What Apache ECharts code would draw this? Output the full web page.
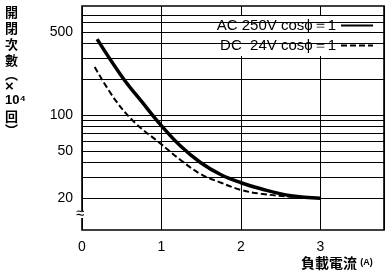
<!DOCTYPE html>
<html>
<head>
<meta charset="utf-8">
<script src="https://cdn.jsdelivr.net/npm/echarts@6/dist/echarts.min.js"></script>
<style>
  html, body { margin: 0; padding: 0; background: #fff; }
  #chart { width: 392px; height: 277px; }
</style>
</head>
<body>
<div id="chart"></div>
<script>
/* 負載電流 (A) */
const acCurrent = [0.19, 0.51, 0.76, 0.99, 1.24, 1.49, 1.75, 2.0, 2.25, 2.63, 3.0]
/* 開閉次數 (x10^4回) AC 250V */
const acCycles = [437, 208, 128, 83, 55, 40, 31.5, 27, 24, 21, 20]

const dcCurrent = [0.16, 0.42, 0.67, 0.97, 1.24, 1.49, 1.75, 2.0, 2.25, 2.63, 3.0]
/* DC 24V */
const dcCycles = [254, 134, 86, 59, 42, 32, 27, 23.5, 21.8, 20.6, 20]

/* 對數格線 */
const gridValues = [20, 30, 40, 50, 60, 70, 80, 90, 100, 200, 300, 400, 500, 600, 700]
/* y 軸刻度標籤 */
const yTickLabels = [20, 50, 100, 500]
const xTickLabels = [0, 1, 2, 3]

const seriesNames = ['AC 250V cos\u03d5\uff1d1', 'DC  24V cos\u03d5\uff1d1']

const font = 'Liberation Sans, Arial, sans-serif'
const cjkFont = 'Noto Sans CJK TC, sans-serif'

const zip = (xs, ys) => xs.map((x, i) => [x, ys[i]])

const chart = echarts.init(document.getElementById('chart'), null, { renderer: 'canvas' })

chart.setOption({
  backgroundColor: '#fff',
  animation: false,
  /* 座標區 */
  grid: {
    left: 82,
    right: 8,
    top: 6,
    bottom: 47,
    show: true,
    borderColor: '#000',
    borderWidth: 1.6,
    backgroundColor: 'transparent'
  },
  /* 軸標題 */
  title: [
    {
      text: '{a|開}\n{a|閉}\n{a|次}\n{a|數}\n{p|︵}\n{x|×}\n{n|10\u2074}\n{a|回}\n{p|︶}',
      left: 5,
      top: 4,
      padding: 0,
      textStyle: {
        fontFamily: cjkFont,
        fontSize: 13,
        fontWeight: 'bold',
        color: '#000',
        rich: {
          a: { fontFamily: cjkFont, fontSize: 13, fontWeight: 'bold', lineHeight: 16, color: '#000' },
          p: { fontFamily: cjkFont, fontSize: 13, fontWeight: 'bold', lineHeight: 12, color: '#000' },
          x: { fontFamily: font, fontSize: 15, lineHeight: 13, color: '#000' },
          n: { fontFamily: font, fontSize: 13, lineHeight: 15, color: '#000' }
        }
      }
    },
    {
      text: '負載電流 {s|(A)}',
      left: 301,
      top: 256,
      padding: 0,
      textStyle: {
        fontFamily: cjkFont,
        fontSize: 14,
        fontWeight: 'bold',
        color: '#000',
        rich: {
          s: { fontFamily: font, fontSize: 9, fontWeight: 'bold', color: '#000' }
        }
      }
    }
  ],
  legend: {
    data: seriesNames,
    orient: 'vertical',
    right: 14,
    top: 16,
    align: 'right',
    itemWidth: 32,
    itemHeight: 12,
    itemGap: 5,
    padding: [2, 4, 3, 3],
    backgroundColor: '#fff',
    itemStyle: { opacity: 0 },
    textStyle: { fontFamily: font, fontSize: 15, color: '#000' }
  },
  xAxis: {
    type: 'value',
    min: 0,
    max: 3.8,
    interval: 1,
    axisLine: { show: false },
    axisTick: { show: false },
    axisLabel: {
      margin: 10,
      fontFamily: font,
      fontSize: 14,
      color: '#000',
      formatter: v => (xTickLabels.includes(v) ? String(v) : '')
    },
    splitLine: { show: true, lineStyle: { color: '#000', width: 1 } }
  },
  yAxis: {
    type: 'log',
    logBase: 10,
    min: 10.8,
    max: 830,
    axisLine: { show: false },
    axisTick: { show: false },
    axisLabel: { show: false },
    splitLine: { show: false }
  },
  series: [
    /* 格線與 y 軸標籤 */
    {
      type: 'line',
      data: [],
      silent: true,
      z: 1,
      markLine: {
        silent: true,
        symbol: 'none',
        animation: false,
        lineStyle: { color: '#000', width: 1, type: 'solid' },
        label: {
          position: 'start',
          distance: 9,
          fontFamily: font,
          fontSize: 14,
          color: '#000',
          formatter: p => (yTickLabels.includes(p.value) ? String(p.value) : '')
        },
        data: gridValues.map(v => ({ yAxis: v }))
      }
    },
    {
      name: seriesNames[0],
      type: 'line',
      smooth: 0.4,
      symbol: 'none',
      z: 3,
      lineStyle: { color: '#000', width: 3.5, type: 'solid' },
      itemStyle: { color: '#000' },
      data: zip(acCurrent, acCycles)
    },
    {
      name: seriesNames[1],
      type: 'line',
      smooth: 0.4,
      symbol: 'none',
      z: 3,
      lineStyle: { color: '#000', width: 2, type: [6, 3] },
      itemStyle: { color: '#000' },
      data: zip(dcCurrent, dcCycles)
    }
  ],
  /* 縱軸斷開符號 */
  graphic: [
    {
      type: 'rect',
      left: 79,
      top: 211,
      shape: { width: 7, height: 7 },
      style: { fill: '#fff' },
      z: 10
    },
    {
      type: 'text',
      left: 76,
      top: 206,
      style: { text: '≈', fontSize: 15, fontFamily: font, fill: '#000' },
      z: 11
    }
  ]
})
</script>
</body>
</html>
